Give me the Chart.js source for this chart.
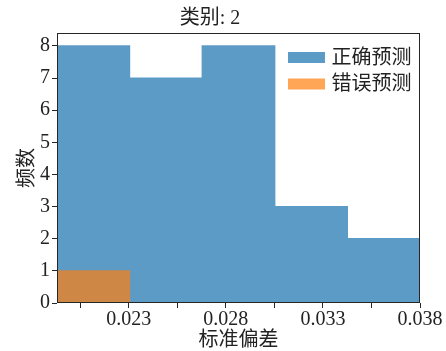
<!DOCTYPE html>
<html>
<head>
<meta charset="utf-8">
<script src="https://cdn.jsdelivr.net/npm/chart.js@4.4.1/dist/chart.umd.min.js"></script>
<style>
  html, body { margin: 0; padding: 0; background: #ffffff; }
  canvas { display: block; }
</style>
</head>
<body>
<canvas id="hist" width="446" height="351"></canvas>
<script>
// Histogram bin edges (标准偏差) and counts per bin
const binEdges = [0.01931, 0.023048, 0.026786, 0.030524, 0.034262, 0.0380];
const correctCounts = [8, 7, 8, 3, 2];
const wrongCounts = [1, 0, 0, 0, 0];
const seriesNames = ['正确预测', '错误预测'];

// Axis ticks
const xTickValues = [0.0205, 0.023, 0.0255, 0.028, 0.0305, 0.033, 0.0355, 0.038];
const xTickLabels = ['', '0.023', '', '0.028', '', '0.033', '', '0.038'];
const yTickValues = [0, 1, 2, 3, 4, 5, 6, 7, 8];
const yTickLabels = ['0', '1', '2', '3', '4', '5', '6', '7', '8'];

const titleText = '类别: 2';
const xTitle = '标准偏差';
const yTitle = '频数';

const FONT = "'Liberation Serif', 'Noto Sans CJK SC', serif";
const INK = '#222222';
const SPINE = '#262626';
// blue is opaque (pre-blended on white) so neighbouring bins join without seams
const BLUE = 'rgb(92, 155, 198)';
const ORANGE = 'rgba(255, 127, 14, 0.7)';

// bin centres paired with counts
function binPoints(counts) {
  return counts.map((c, i) => ({ x: (binEdges[i] + binEdges[i + 1]) / 2, y: c }));
}

// full frame drawn over the bars
const framePlugin = {
  id: 'frame',
  afterDatasetsDraw(chart) {
    const { ctx, chartArea: a } = chart;
    ctx.save();
    ctx.strokeStyle = SPINE;
    ctx.lineWidth = 1;
    ctx.strokeRect(Math.round(a.left) + 0.5, Math.round(a.top) + 0.5,
                   Math.round(a.right - a.left) - 1, Math.round(a.bottom - a.top) - 1);
    ctx.restore();
  }
};

// legend in the upper right of the plot area
const legendPlugin = {
  id: 'cornerLegend',
  afterDraw(chart) {
    const { ctx } = chart;
    const rows = [
      { label: chart.data.datasets[1].label, color: chart.data.datasets[1].backgroundColor, cy: 57.5 },
      { label: chart.data.datasets[0].label, color: chart.data.datasets[0].backgroundColor, cy: 84 }
    ];
    ctx.save();
    ctx.font = '20px ' + FONT;
    ctx.textBaseline = 'middle';
    ctx.textAlign = 'left';
    rows.forEach(r => {
      ctx.fillStyle = r.color;
      ctx.fillRect(288, r.cy - 5.5, 37, 11);
      ctx.fillStyle = INK;
      ctx.fillText(r.label, 331.5, r.cy + 1);
    });
    ctx.restore();
  }
};

// overlapping histogram bars, each spanning its full bin
const barStyle = {
  borderWidth: 0,
  inflateAmount: 0.6,
  barThickness: 'flex',
  barPercentage: 1,
  categoryPercentage: 1,
  stack: 'hist'
};

new Chart(document.getElementById('hist'), {
  type: 'bar',
  data: {
    datasets: [
      Object.assign({
        label: seriesNames[1],
        data: binPoints(wrongCounts),
        backgroundColor: ORANGE,
        order: 1
      }, barStyle),
      Object.assign({
        label: seriesNames[0],
        data: binPoints(correctCounts),
        backgroundColor: BLUE,
        order: 2
      }, barStyle)
    ]
  },
  options: {
    responsive: false,
    animation: false,
    devicePixelRatio: 1,
    layout: { padding: { left: 0, right: 26, top: 0, bottom: 0 } },
    plugins: {
      legend: { display: false },
      tooltip: { enabled: false },
      title: {
        display: true,
        text: titleText,
        color: INK,
        font: { family: FONT, size: 20, weight: 'normal', lineHeight: 1.2 },
        padding: { top: 7, bottom: 2 }
      }
    },
    scales: {
      x: {
        type: 'linear',
        offset: false,
        min: binEdges[0],
        max: binEdges[binEdges.length - 1],
        afterBuildTicks: s => { s.ticks = xTickValues.map(v => ({ value: v })); },
        afterFit: s => { s.height = 48; },
        ticks: {
          autoSkip: false,
          maxRotation: 0,
          padding: 0,
          color: INK,
          font: { family: FONT, size: 20 },
          callback: (v, i) => xTickLabels[i]
        },
        grid: {
          display: true,
          offset: false,
          drawOnChartArea: false,
          drawTicks: true,
          tickLength: 5,
          tickColor: SPINE
        },
        border: { display: false },
        title: {
          display: true,
          text: xTitle,
          color: INK,
          font: { family: FONT, size: 20, lineHeight: 1 },
          padding: { top: 0, bottom: 0 }
        }
      },
      y: {
        type: 'linear',
        stacked: false,
        min: 0,
        max: 8.4,
        afterBuildTicks: s => { s.ticks = yTickValues.map(v => ({ value: v })); },
        afterFit: s => { s.width = 57; },
        ticks: {
          padding: 2,
          color: INK,
          font: { family: FONT, size: 20 },
          callback: (v, i) => yTickLabels[i]
        },
        grid: {
          display: true,
          drawOnChartArea: false,
          drawTicks: true,
          tickLength: 5,
          tickColor: SPINE
        },
        border: { display: false },
        title: {
          display: true,
          text: yTitle,
          color: INK,
          font: { family: FONT, size: 20, lineHeight: 1.2 },
          padding: { top: 16, bottom: 0 }
        }
      }
    }
  },
  plugins: [framePlugin, legendPlugin]
});
</script>
</body>
</html>
